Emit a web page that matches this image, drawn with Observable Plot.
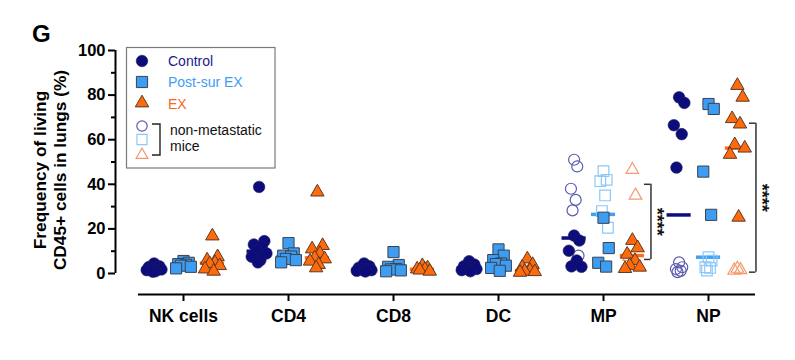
<!DOCTYPE html>
<html><head><meta charset="utf-8">
<script src="https://cdn.jsdelivr.net/npm/d3@7"></script>
<script src="https://cdn.jsdelivr.net/npm/@observablehq/plot@0.6"></script>
<style>
body{margin:0;background:#fff}
#chart{position:relative;width:795px;height:360px}
svg{font-family:"Liberation Sans",Arial,sans-serif;overflow:visible}
</style>
</head><body><div id="chart"></div>
<script>
// ---- data ----
const categories = ["NK cells", "CD4", "CD8", "DC", "MP", "NP"];
const groups = ["Control", "Post-sur EX", "EX"];
const yTicks = [0, 20, 40, 60, 80, 100];
const yMinorTicks = [10, 30, 50, 70, 90];

// metastatic mice (filled markers), one list per category
const controlFilled = [
  [4.5, 3.2, 2.6, 2.2, 1.8, 1.5, 1.0, 2.9, 0.8],
  [38.8, 14.5, 13, 12, 10, 9, 7.5, 6, 5],
  [4.5, 3.2, 2.6, 2.0, 1.8, 1.5, 1.2, 0.9],
  [5.5, 4.0, 3.2, 2.6, 2.3, 2.0, 1.5, 1.0],
  [17, 14.8, 10.2, 5.8, 3.2, 3.0],
  [79, 76.5, 66.5, 62.5, 47.5]
];
const postSurFilled = [
  [5.6, 4.8, 4.2, 3.9, 3.5, 3.0, 2.3],
  [13.6, 9, 8, 7.6, 6.5, 6, 5],
  [9.6, 3.8, 3.0, 2.0, 1.8, 1.4, 1.0],
  [10.8, 8, 6, 4.5, 4.2, 3.5, 2.5, 1.2],
  [25, 11.4, 4.8, 3.1],
  [76, 73.8, 45.7, 26.3]
];
const exFilled = [
  [16.8, 7.5, 6, 4.8, 4.4, 3.5, 2.0, 1.0],
  [36.5, 12.5, 11, 9, 7, 6.5, 5.5, 4, 2.5],
  [3.5, 2.5, 2.0, 1.8, 1.5, 1.0],
  [6.5, 4.0, 2.8, 1.3, 1.0, 0.8, 0.5],
  [14.8, 11.5, 8.6, 5.8, 3.6, 2.8, 2.2],
  [84.3, 79, 69.4, 67, 57.7, 56.2, 53.4, 25.2]
];
// non-metastatic mice (open markers)
const controlOpen = [[], [], [], [], [51, 48, 38, 33, 28.3, 8], [5, 2.8, 2, 1.2, 0.6]];
const postSurOpen = [[], [], [], [], [45.9, 42, 41.4, 35, 28, 20.5], [7.3, 5.8, 2.8, 2.5, 1.3]];
const exOpen = [[], [], [], [], [46.5, 35, 7.5], [2.2, 1.6, 1.4]];

// significance brackets (category, top value, bottom value)
const bracketCats = [4, 5];
const bracketTop = [40, 67.4];
const bracketBottom = [6.3, 0.6];
const bracketLabel = ["****", "****"];

// ---- styling ----
const offsets = [-0.28, 0, 0.275];
const fillCols = ["#0c0c7c", "#3d9df2", "#ff6a0a"];
const strokeCols = ["#1c1c5c", "#3a4250", "#5a3a28"];
const openCols = ["#5b5bb0", "#8cc8f8", "#f59a70"];
const barCols = ["#0d0d80", "#3fa2f7", "#ff6d16"];
const symbols = ["circle", "square", "triangle"];
const radii = [5.8, 6.3, 5.0];
const jitter = [0, 0.05, -0.05, 0.025, -0.025, 0.07, -0.07, 0.012, -0.012, 0.04, -0.04];

const filledSets = [controlFilled, postSurFilled, exFilled];
const openSets = [controlOpen, postSurOpen, exOpen];

const points = [];
const medians = [];
filledSets.forEach((set, gi) => {
  set.forEach((vals, ci) => {
    const sorted = [...vals].sort((a, b) => b - a);
    sorted.forEach((v, k) => points.push({gi, ci, v, open: false, j: jitter[k % jitter.length]}));
    const op = [...openSets[gi][ci]].sort((a, b) => b - a);
    op.forEach((v, k) => points.push({gi, ci, v, open: true, j: jitter[k % jitter.length] * 0.6}));
    medians.push({gi, ci, v: d3.median(vals.concat(openSets[gi][ci]))});
  });
});

const xMin = -0.6476, xMax = 5.4476, yMin = -9.42;
const xAxisStart = -0.4286;
const bw = 0.115;

const marks = [];
// median bars
groups.forEach((g, gi) => {
  marks.push(Plot.ruleY(medians.filter(d => d.gi === gi), {
    y: "v", x1: d => d.ci + offsets[gi] - bw, x2: d => d.ci + offsets[gi] + bw,
    stroke: barCols[gi], strokeWidth: 3.5
  }));
});
// markers
groups.forEach((g, gi) => {
  marks.push(Plot.dot(points.filter(d => d.gi === gi && d.open), {
    x: d => d.ci + offsets[gi] + d.j, y: "v", r: radii[gi] - 0.3, symbol: symbols[gi],
    fill: "none", stroke: openCols[gi], strokeWidth: 1.2
  }));
  marks.push(Plot.dot(points.filter(d => d.gi === gi && !d.open), {
    x: d => d.ci + offsets[gi] + d.j, y: "v", r: radii[gi], symbol: symbols[gi],
    fill: fillCols[gi], stroke: strokeCols[gi], strokeWidth: gi === 0 ? 0.6 : 1
  }));
});
// brackets
const br = bracketCats.map((c, i) => ({c, top: bracketTop[i], bottom: bracketBottom[i], label: bracketLabel[i]}));
marks.push(Plot.ruleX(br, {x: d => d.c + 0.452, y1: "bottom", y2: "top", stroke: "#333", strokeWidth: 1.5}));
marks.push(Plot.ruleY(br, {y: "top", x1: d => d.c + 0.452, x2: d => d.c + 0.39, stroke: "#333", strokeWidth: 1.5}));
marks.push(Plot.ruleY(br, {y: "bottom", x1: d => d.c + 0.452, x2: d => d.c + 0.39, stroke: "#333", strokeWidth: 1.5}));
marks.push(Plot.text(br, {x: d => d.c + 0.505, y: d => (d.top + d.bottom) / 2, text: "label", rotate: 90,
  fontSize: 18, fontWeight: "bold", fill: "#111", textAnchor: "middle", lineAnchor: "middle"}));
// axes
marks.push(Plot.ruleX([xMin], {y1: 0, y2: 100, stroke: "#000", strokeWidth: 2}));
marks.push(Plot.ruleY([yMin], {x1: xAxisStart, x2: xMax, stroke: "#000", strokeWidth: 2}));
marks.push(Plot.axisY({ticks: yTicks, tickSize: 7, tickPadding: 3, fontSize: 16.5, fontWeight: "bold",
  strokeWidth: 2, label: null, fill: "#000"}));
marks.push(Plot.axisY({ticks: yMinorTicks, tickSize: 4, tickFormat: () => "", strokeWidth: 2, label: null}));
marks.push(Plot.axisX({ticks: [0, 1, 2, 3, 4, 5], tickFormat: i => categories[i], tickSize: 7, tickPadding: 8,
  fontSize: 17.5, fontWeight: "bold", strokeWidth: 2, label: null, fill: "#000"}));

const plot = Plot.plot({
  width: 795, height: 360,
  marginTop: 50, marginBottom: 66, marginLeft: 115, marginRight: 40,
  x: {type: "linear", domain: [xMin, xMax]},
  y: {type: "linear", domain: [yMin, 100]},
  style: {fontFamily: "Liberation Sans, Arial, sans-serif", background: "#fff", overflow: "visible"},
  marks
});
document.getElementById("chart").appendChild(plot);

// ---- title, y label, legend ----
const svg = d3.select(plot);
svg.append("text").attr("x", 32).attr("y", 42).attr("text-anchor", "start")
  .attr("font-size", 24).attr("font-weight", "bold").text("G");
const yl = svg.append("g").attr("font-size", 17.3).attr("font-weight", "bold").attr("text-anchor", "middle");
yl.append("text").attr("transform", "translate(46,170) rotate(-90)").text("Frequency of living");
yl.append("text").attr("transform", "translate(66,170) rotate(-90)").text("CD45+ cells in lungs (%)");

const lg = svg.append("g").attr("text-anchor", "start");
lg.append("rect").attr("x", 126.5).attr("y", 47.5).attr("width", 148.5).attr("height", 120.5)
  .attr("fill", "#fff").attr("stroke", "#7a7a7a").attr("stroke-width", 1.2);
const sym = {circle: d3.symbolCircle, square: d3.symbolSquare, triangle: d3.symbolTriangle};
const legY = [61, 82, 103];
const legTextY = [66, 87, 108.5];
const legTextCols = ["#1a1a8c", "#3d9df2", "#f26a22"];
groups.forEach((g, gi) => {
  lg.append("path").attr("transform", `translate(142,${legY[gi]})`)
    .attr("d", d3.symbol(sym[symbols[gi]], Math.PI * radii[gi] * radii[gi])())
    .attr("fill", fillCols[gi]).attr("stroke", strokeCols[gi]).attr("stroke-width", gi === 0 ? 0.6 : 1);
  lg.append("text").attr("x", 168).attr("y", legTextY[gi]).attr("font-size", 14)
    .attr("fill", legTextCols[gi]).text(g);
});
const openY = [126, 139.5, 155];
groups.forEach((g, gi) => {
  lg.append("path").attr("transform", `translate(142,${openY[gi]})`)
    .attr("d", d3.symbol(sym[symbols[gi]], Math.PI * (radii[gi] - 0.6) ** 2)())
    .attr("fill", "none").attr("stroke", openCols[gi]).attr("stroke-width", 1.2);
});
lg.append("path").attr("d", "M152,124H160V155H152").attr("fill", "none").attr("stroke", "#222").attr("stroke-width", 1.4);
lg.append("text").attr("x", 170).attr("y", 135).attr("font-size", 14).attr("fill", "#111").text("non-metastatic");
lg.append("text").attr("x", 170).attr("y", 151).attr("font-size", 14).attr("fill", "#111").text("mice");
</script>
</body></html>
